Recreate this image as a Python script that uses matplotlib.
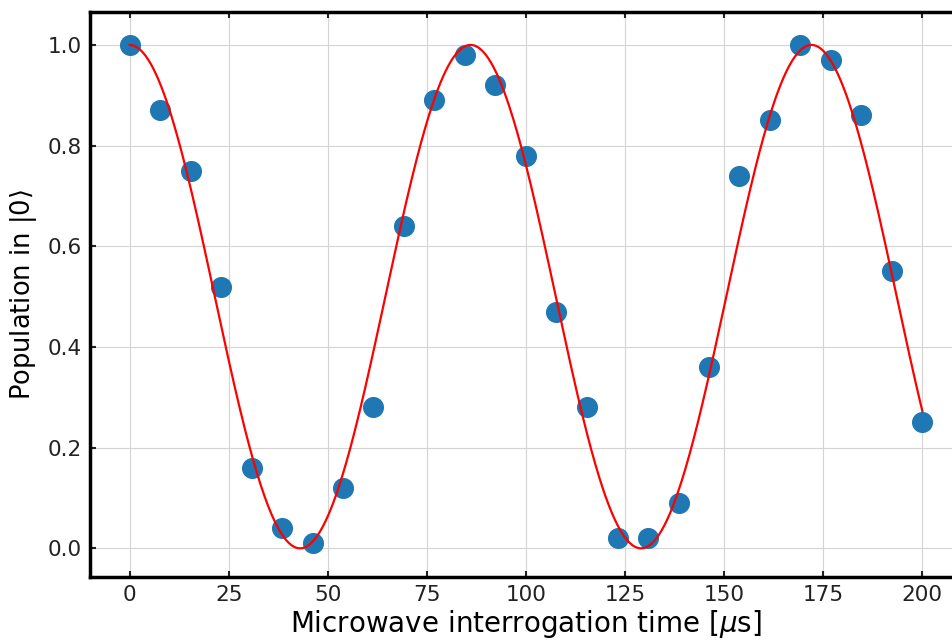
import matplotlib
matplotlib.use("Agg")
import matplotlib.pyplot as plt
import numpy as np

# Rabi oscillation data
t_us = [0, 7.7, 15.4, 23.1, 30.8, 38.5, 46.2, 53.8, 61.5, 69.2, 76.9, 84.6, 92.3,
        100, 107.7, 115.4, 123.1, 130.8, 138.5, 146.2, 153.8, 161.5, 169.2, 176.9,
        184.6, 192.3, 200]
population = [1.0, 0.87, 0.75, 0.52, 0.16, 0.04, 0.01, 0.12, 0.28, 0.64, 0.89, 0.98, 0.92,
              0.78, 0.47, 0.28, 0.02, 0.02, 0.09, 0.36, 0.74, 0.85, 1.0, 0.97,
              0.86, 0.55, 0.25]

x_ticks = [0, 25, 50, 75, 100, 125, 150, 175, 200]
y_ticks = [0.0, 0.2, 0.4, 0.6, 0.8, 1.0]

# simple least-squares fit of cos^2 model over the period
t = np.array(t_us)
p = np.array(population)
periods = np.arange(70, 100, 0.01)
resid = [np.sum((0.5 * (1 + np.cos(2 * np.pi * t / T)) - p) ** 2) for T in periods]
T_fit = periods[int(np.argmin(resid))]
t_fine = np.linspace(0, 200, 600)
p_fit = 0.5 * (1 + np.cos(2 * np.pi * t_fine / T_fit))

fig = plt.figure(figsize=(9.53, 6.44), dpi=100)
ax = fig.add_axes([0.0944, 0.104, 0.915, 0.877])

ax.scatter(t, p, s=200, color="#1f77b4", zorder=3)
ax.plot(t_fine, p_fit, color="red", lw=1.6, zorder=4)

ax.set_xlim(-10, 210)
ax.set_ylim(-0.057, 1.065)
ax.set_xticks(x_ticks)
ax.set_yticks(y_ticks)
ax.set_yticklabels([f"{v:.1f}" for v in y_ticks])
ax.tick_params(direction="in", top=True, right=True, labelsize=15.5, length=4, width=1.5,
               colors="#222222", pad=6)
ax.grid(True, color="#d4d4d4", lw=0.8)
for s in ax.spines.values():
    s.set_linewidth(2.5)

ax.set_xlabel("Microwave interrogation time [$\\mu$s]", fontsize=20, labelpad=2)
ax.set_ylabel("Population in $|0\\rangle$", fontsize=18.5, labelpad=6)

fig.savefig("out.png", dpi=100)
